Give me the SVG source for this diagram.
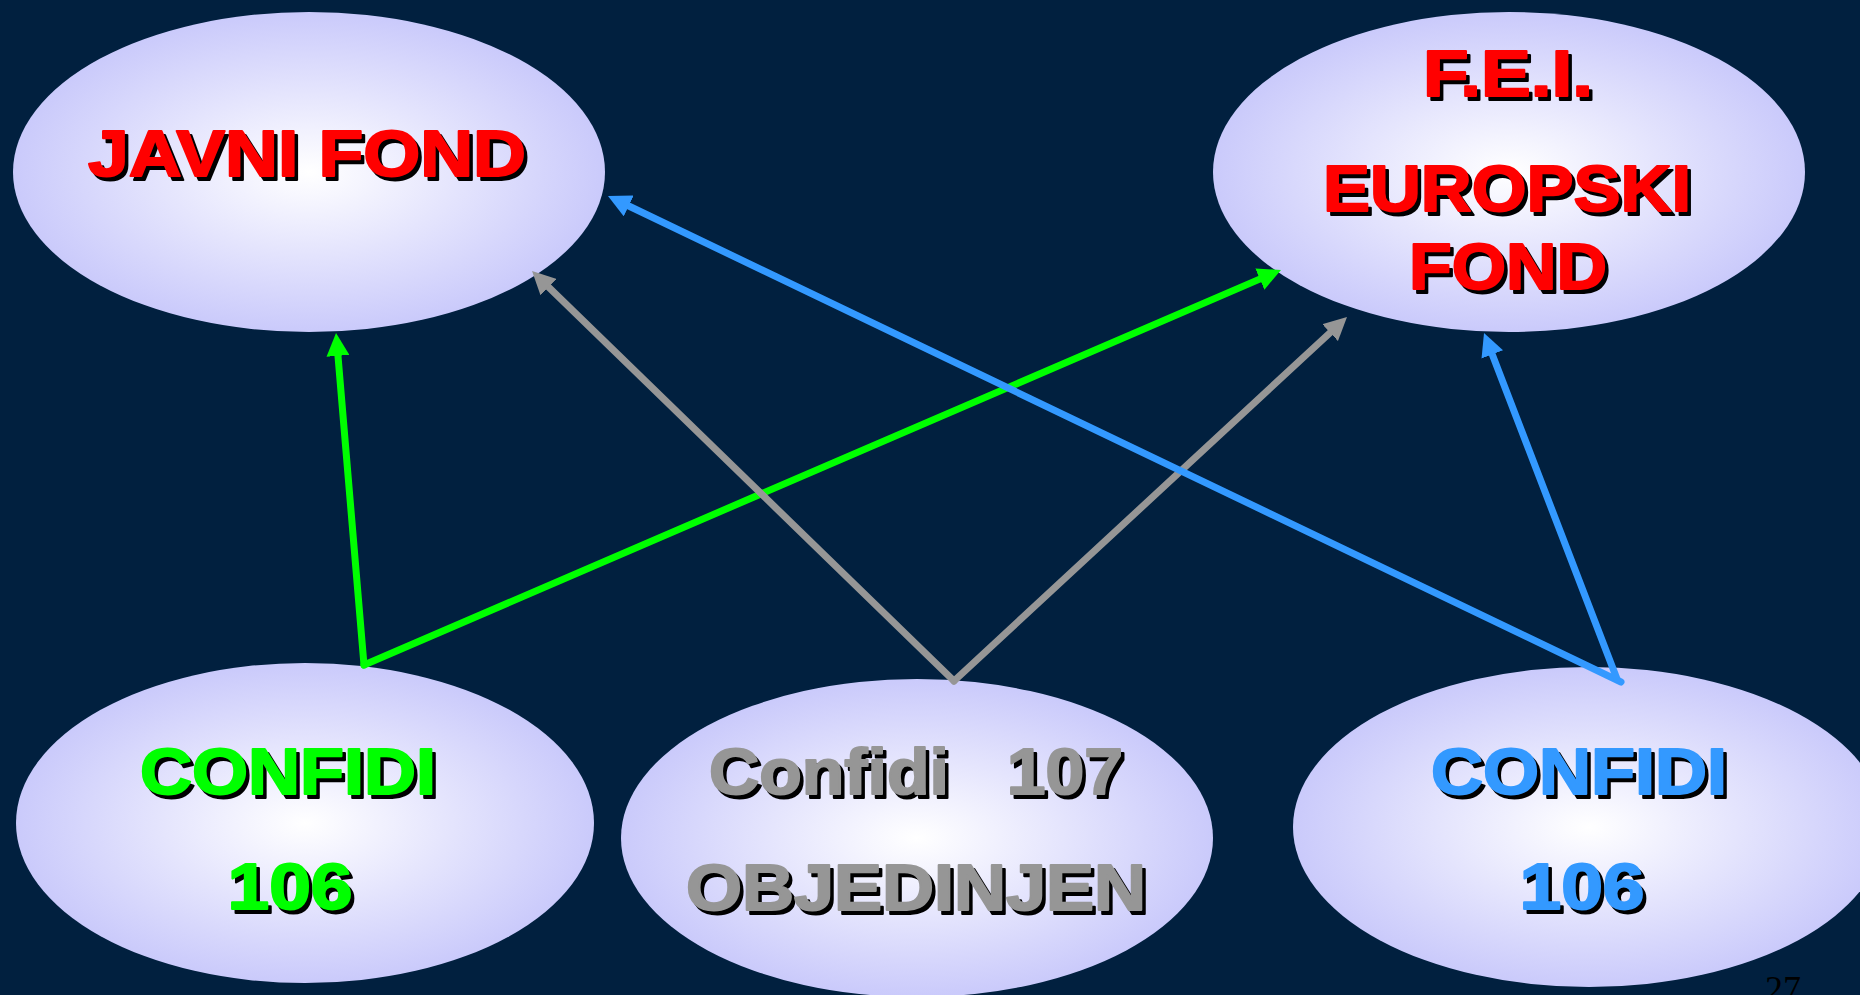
<svg xmlns="http://www.w3.org/2000/svg" width="1860" height="995" viewBox="0 0 1860 995">
<defs>
<radialGradient id="fill" cx="50%" cy="50%" r="50%">
<stop offset="0%" stop-color="#FFFFFF"/>
<stop offset="100%" stop-color="#CACAFB"/>
</radialGradient>
<marker id="aG" viewBox="0 0 23 23" markerWidth="23" markerHeight="23" refX="8" refY="11.5" orient="auto" markerUnits="userSpaceOnUse"><path d="M0,0 L23,11.5 L0,23 Z" fill="#00FF00"/></marker>
<marker id="aY" viewBox="0 0 23 23" markerWidth="23" markerHeight="23" refX="8" refY="11.5" orient="auto" markerUnits="userSpaceOnUse"><path d="M0,0 L23,11.5 L0,23 Z" fill="#969696"/></marker>
<marker id="aB" viewBox="0 0 23 23" markerWidth="23" markerHeight="23" refX="8" refY="11.5" orient="auto" markerUnits="userSpaceOnUse"><path d="M0,0 L23,11.5 L0,23 Z" fill="#3399FF"/></marker>
</defs>
<style>
.node{fill:url(#fill);}
.t{font-family:"Liberation Sans",Arial,sans-serif;font-weight:bold;font-size:64px;text-anchor:middle;stroke-width:2;stroke-linejoin:round;}
.sh{fill:#000000;stroke:#000000;}
.red{fill:#FF0000;stroke:#FF0000;}
.green{fill:#00FF00;stroke:#00FF00;}
.gray{fill:#969696;stroke:#969696;}
.blue{fill:#3399FF;stroke:#3399FF;}
.c{fill:none;stroke-width:7;stroke-linecap:round;}
</style>
<rect x="0" y="0" width="1860" height="995" fill="#01203F"/>

<g id="node-javni-fond">
<ellipse class="node" cx="309" cy="172" rx="296" ry="160"/>
<text class="t sh" x="310.5" y="179.5" textLength="438" lengthAdjust="spacingAndGlyphs">JAVNI FOND</text>
<text class="t red" x="307" y="176" textLength="438" lengthAdjust="spacingAndGlyphs">JAVNI FOND</text>
</g>

<g id="node-fei">
<ellipse class="node" cx="1509" cy="172" rx="296" ry="160"/>
<text class="t sh" x="1511.5" y="99.5" textLength="170" lengthAdjust="spacingAndGlyphs">F.E.I.</text>
<text class="t red" x="1508" y="96" textLength="170" lengthAdjust="spacingAndGlyphs">F.E.I.</text>
<text class="t sh" x="1510.5" y="214.5" textLength="368" lengthAdjust="spacingAndGlyphs">EUROPSKI</text>
<text class="t red" x="1507" y="211" textLength="368" lengthAdjust="spacingAndGlyphs">EUROPSKI</text>
<text class="t sh" x="1511.5" y="292.5" textLength="198" lengthAdjust="spacingAndGlyphs">FOND</text>
<text class="t red" x="1508" y="289" textLength="198" lengthAdjust="spacingAndGlyphs">FOND</text>
</g>

<g id="node-confidi-green">
<ellipse class="node" cx="305" cy="823" rx="289" ry="160"/>
<text class="t sh" x="291.5" y="797.5" textLength="296" lengthAdjust="spacingAndGlyphs">CONFIDI</text>
<text class="t green" x="288" y="794" textLength="296" lengthAdjust="spacingAndGlyphs">CONFIDI</text>
<text class="t sh" x="293.5" y="912.5" textLength="125" lengthAdjust="spacingAndGlyphs">106</text>
<text class="t green" x="290" y="909" textLength="125" lengthAdjust="spacingAndGlyphs">106</text>
</g>

<g id="node-confidi-107">
<ellipse class="node" cx="917" cy="838" rx="296" ry="159"/>
<text class="t sh" x="919.5" y="797.5" textLength="414" lengthAdjust="spacingAndGlyphs" xml:space="preserve">Confidi   107</text>
<text class="t gray" x="916" y="794" textLength="414" lengthAdjust="spacingAndGlyphs" xml:space="preserve">Confidi   107</text>
<text class="t sh" x="919.5" y="913.5" textLength="460" lengthAdjust="spacingAndGlyphs">OBJEDINJEN</text>
<text class="t gray" x="916" y="910" textLength="460" lengthAdjust="spacingAndGlyphs">OBJEDINJEN</text>
</g>

<g id="node-confidi-blue">
<ellipse class="node" cx="1589" cy="827" rx="296" ry="160"/>
<text class="t sh" x="1582.5" y="797.5" textLength="296" lengthAdjust="spacingAndGlyphs">CONFIDI</text>
<text class="t blue" x="1579" y="794" textLength="296" lengthAdjust="spacingAndGlyphs">CONFIDI</text>
<text class="t sh" x="1585.5" y="912.5" textLength="125" lengthAdjust="spacingAndGlyphs">106</text>
<text class="t blue" x="1582" y="909" textLength="125" lengthAdjust="spacingAndGlyphs">106</text>
</g>

<g id="connectors">
<line class="c" x1="364" y1="665" x2="337.3" y2="347.9" stroke="#00FF00" marker-end="url(#aG)"/>
<line class="c" x1="364" y1="665" x2="1267.2" y2="275.9" stroke="#00FF00" marker-end="url(#aG)"/>
<line class="c" x1="954" y1="681" x2="542.8" y2="281.5" stroke="#969696" marker-end="url(#aY)"/>
<line class="c" x1="954" y1="681" x2="1336" y2="327.2" stroke="#969696" marker-end="url(#aY)"/>
<line class="c" x1="1621" y1="682" x2="621.5" y2="202.5" stroke="#3399FF" marker-end="url(#aB)"/>
<line class="c" x1="1617" y1="679" x2="1489.4" y2="347" stroke="#3399FF" marker-end="url(#aB)"/>
</g>

<text x="1765" y="1001" font-family="'Liberation Serif','Times New Roman',serif" font-size="36" fill="#000000">27</text>
</svg>
